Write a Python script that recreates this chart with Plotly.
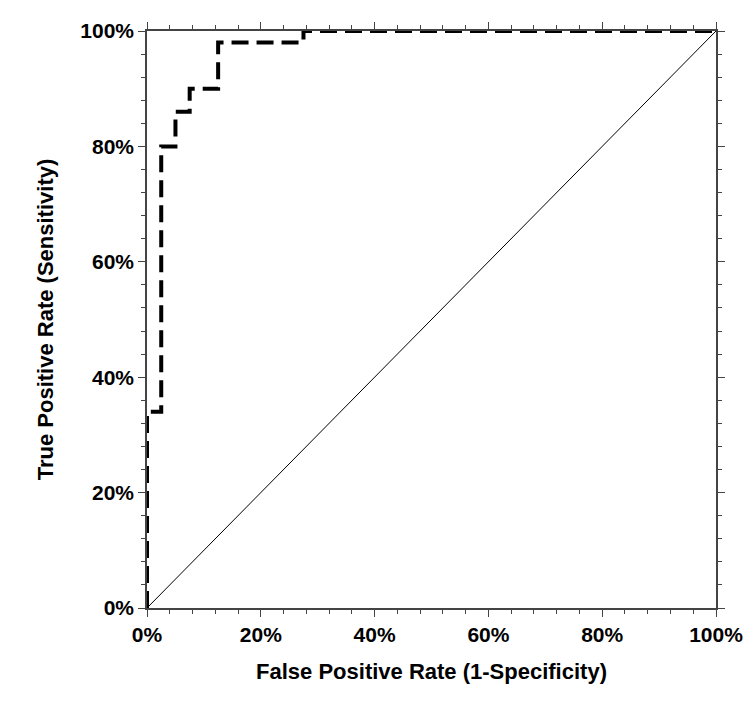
import plotly.graph_objects as go

# ROC curve operating points (step function)
fpr = [0.0, 0.0, 0.025, 0.025, 0.05, 0.05, 0.075, 0.075, 0.125, 0.125, 0.275, 0.275, 1.0]
tpr = [0.0, 0.34, 0.34, 0.80, 0.80, 0.86, 0.86, 0.90, 0.90, 0.98, 0.98, 1.0, 1.0]

# Chance line
ref_x = [0.0, 1.0]
ref_y = [0.0, 1.0]

tick_vals = [0.0, 0.2, 0.4, 0.6, 0.8, 1.0]
tick_text = ["0%", "20%", "40%", "60%", "80%", "100%"]

FONT = "Liberation Sans, Arial, sans-serif"

fig = go.Figure()
fig.add_trace(go.Scatter(
    x=ref_x, y=ref_y, mode="lines",
    line=dict(color="black", width=1),
    cliponaxis=False, showlegend=False, hoverinfo="skip",
))
fig.add_trace(go.Scatter(
    x=fpr, y=tpr, mode="lines",
    line=dict(color="black", width=4, dash="17px,8px"),
    cliponaxis=False, showlegend=False,
))

axis_common = dict(
    range=[0, 1],
    tickvals=tick_vals,
    ticktext=tick_text,
    ticks="outside",
    ticklen=7,
    tickwidth=1.3,
    tickcolor="#444444",
    showline=True,
    linecolor="#444444",
    linewidth=1.5,
    mirror="ticks",
    showgrid=False,
    zeroline=False,
    automargin=False,
    tickfont=dict(family=FONT, size=21, color="black", weight="bold"),
    minor=dict(dtick=0.04, tick0=0, ticks="outside", ticklen=4,
               tickwidth=1, tickcolor="#444444", showgrid=False),
)

fig.update_xaxes(
    **axis_common,
    title=dict(text="<b>False Positive Rate (1-Specificity)</b>",
               font=dict(family=FONT, size=22, color="black"), standoff=19),
)
fig.update_yaxes(
    **axis_common,
    title=dict(text="<b>True Positive Rate (Sensitivity)</b>",
               font=dict(family=FONT, size=22, color="black"), standoff=21),
)

fig.update_layout(
    width=747, height=702,
    margin=dict(l=147, r=31, t=31, b=94),
    plot_bgcolor="white",
    paper_bgcolor="white",
)

fig.write_html("out.html")
